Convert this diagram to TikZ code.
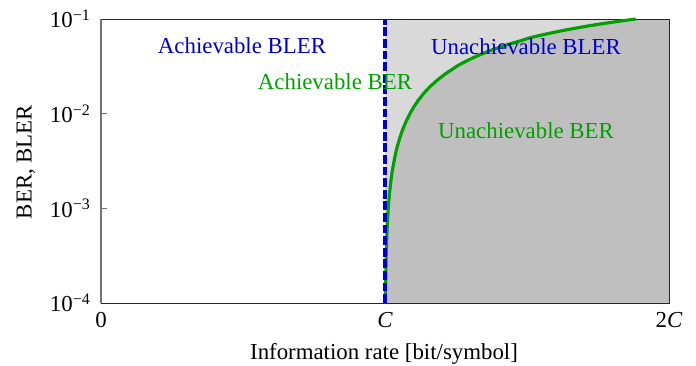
\documentclass[tikz,border=0pt]{standalone}
\usepackage{fontspec}
\setmainfont{Liberation Serif}
\usetikzlibrary{calc}
\definecolor{blerblue}{RGB}{0,0,205}
\definecolor{bergreen}{RGB}{0,160,0}
\definecolor{lightregion}{RGB}{217,217,217}
\definecolor{darkregion}{RGB}{191,191,191}
\def\binent#1{(-(#1)*ln(#1)-(1-(#1))*ln(1-(#1)))/ln(2)}
\def\decade#1{10\textsuperscript{−#1}}

\begin{document}
\begin{tikzpicture}[x=5.68cm, y=1.8933cm, font=\fontsize{13}{15}\selectfont]
		%%%%% START %%%%%
		\useasboundingbox (-0.3556, -0.655) rectangle (2.095, 3.2007);
		
		\fill[lightregion] (1, 0) rectangle (2, 3);
		\fill[darkregion] plot[variable=\t, domain=-4:-1, samples=120, smooth] ({1/(1-\binent{10^\t})}, {\t+4}) -- (2, 3) -- (2, 0) -- cycle;
		
		\draw[line width=0.5pt, color=black!85] (0, 0) rectangle (2, 3);
		\draw[line width=0.6pt, color=black!55] (0, 0) -- (0, 3);
		\draw[line width=0.6pt, color=black!55] (0, 1) -- (0.02, 1);
		\draw[line width=0.6pt, color=black!55] (0, 2) -- (0.02, 2);
		
		\draw[line width=1.8pt, color=bergreen] plot[variable=\t, domain=-4:-1, samples=120, smooth] ({1/(1-\binent{10^\t})}, {\t+4});
		\draw[line width=2.2pt, color=blerblue, dash pattern=on 5pt off 1.6pt] (1, 0) -- (1, 3);
		
		\node[color=blerblue] (achbler) at (0.4965, 2.715) {Achievable BLER};
		\node[color=blerblue] (unachbler) at (1.4965, 2.704) {Unachievable BLER};
		\node[color=bergreen] (achber) at (0.824, 2.334) {Achievable BER};
		\node[color=bergreen] (unachber) at (1.4965, 1.817) {Unachievable BER};
		
		\node[anchor=east, inner sep=0pt] (tickA) at (-0.035, 3) {\decade{1}};
		\node[anchor=east, inner sep=0pt] (tickB) at (-0.035, 2) {\decade{2}};
		\node[anchor=east, inner sep=0pt] (tickC) at (-0.035, 1) {\decade{3}};
		\node[anchor=east, inner sep=0pt] (tickD) at (-0.035, 0) {\decade{4}};
		
		\node (zero) at (0, -0.18) {0};
		\node (cap) at (1, -0.18) {\textit{C}};
		\node (twocap) at (2, -0.18) {2\textit{C}};
		
		\node (xlabel) at (0.9965, -0.539) {Information rate [bit/symbol]};
		\node[rotate=90] (ylabel) at (-0.264, 1.489) {BER, BLER};
		%%%%% END %%%%%
	\end{tikzpicture}
\end{document}
